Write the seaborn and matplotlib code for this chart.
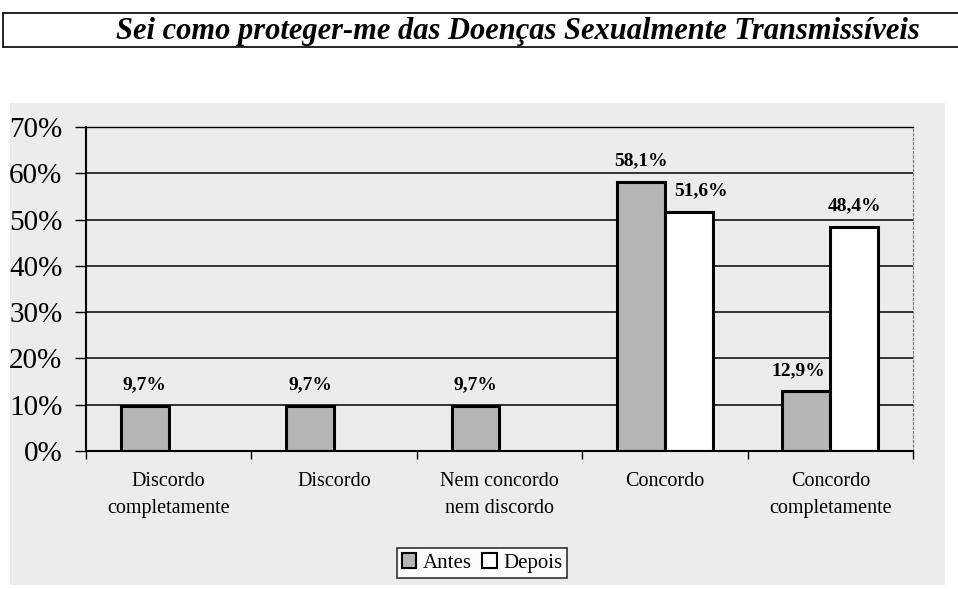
import pandas as pd
import numpy as np
import matplotlib
matplotlib.use("Agg")
import matplotlib.pyplot as plt
from matplotlib.patches import Rectangle, Patch
from matplotlib.lines import Line2D
import seaborn as sns

# dados
categorias = ["Discordo\ncompletamente", "Discordo", "Nem concordo\nnem discordo",
              "Concordo", "Concordo\ncompletamente"]
antes = [9.7, 9.7, 9.7, 58.1, 12.9]
depois = [np.nan, np.nan, np.nan, 51.6, 48.4]
series = ["Antes", "Depois"]
yticks = [0, 10, 20, 30, 40, 50, 60, 70]

df = pd.DataFrame({
    "categoria": categorias * 2,
    "serie": ["Antes"] * len(categorias) + ["Depois"] * len(categorias),
    "valor": antes + depois,
})

sns.set_style("white")
plt.rcParams["font.family"] = ["Liberation Serif", "DejaVu Serif"]
plt.rcParams["text.color"] = "black"
plt.rcParams["xtick.color"] = "black"
plt.rcParams["ytick.color"] = "black"

fig = plt.figure(figsize=(9.58, 5.89), dpi=100)
fig.patch.set_facecolor("white")

# fundo cinzento da zona do grafico
fundo = "#ececec"
fig.patches.append(Rectangle((10 / 958, 1 - 585 / 589), 935 / 958, 482 / 589,
                             transform=fig.transFigure, facecolor=fundo,
                             edgecolor="none", zorder=-5))

# caixa do titulo
fig.lines.append(Line2D([3 / 958, 1], [1 - 13 / 589] * 2, transform=fig.transFigure, color="black", lw=1.2))
fig.lines.append(Line2D([3 / 958, 1], [1 - 47 / 589] * 2, transform=fig.transFigure, color="black", lw=1.2))
fig.lines.append(Line2D([3 / 958, 3 / 958], [1 - 13 / 589, 1 - 47 / 589], transform=fig.transFigure, color="black", lw=1.2))
fig.text(0.541, 1 - 31 / 589, "Sei como proteger-me das Doenças Sexualmente Transmissíveis",
         ha="center", va="center", fontsize=22, fontweight="bold", fontstyle="italic")

ax = fig.add_axes([86 / 958, 1 - 451 / 589, 827 / 958, 324 / 589])
ax.set_facecolor(fundo)

sns.barplot(data=df, x="categoria", y="valor", hue="serie", hue_order=series,
            palette={"Antes": "#b5b5b5", "Depois": "white"}, width=0.58, gap=0,
            errorbar=None, edgecolor="black", linewidth=2.2, ax=ax, legend=False)

for cont in ax.containers:
    vals = [v for v in cont.datavalues]
    labels = ["" if np.isnan(v) else f"{v:.1f}%".replace(".", ",") for v in vals]
    txts = ax.bar_label(cont, labels=labels, padding=9, fontsize=14, fontweight="bold")
    # afastar um pouco os rotulos que ficam colados a barra vizinha
    for t in txts:
        if t.get_text() == "51,6%":
            t.xyann = (9, t.xyann[1])
        if t.get_text() == "12,9%":
            t.xyann = (-6, t.xyann[1])

ax.set_ylim(0, 70)
ax.set_xlim(-0.5, 4.5)
ax.set_yticks(yticks)
ax.set_yticklabels([f"{t}%" for t in yticks], fontsize=21)
ax.yaxis.grid(True, color="black", lw=1.1)
ax.set_axisbelow(True)
ax.tick_params(axis="y", length=8, width=1, direction="out", left=True, pad=9)
ax.set_xticks(range(len(categorias)))
ax.set_xticklabels(categorias, fontsize=14.5, linespacing=1.55)
ax.set_xticks(np.arange(-0.5, 5, 1), minor=True)
ax.tick_params(axis="x", which="major", length=0, pad=15)
ax.tick_params(axis="x", which="minor", length=6, width=1, direction="out", bottom=True)
ax.set_xlabel("")
ax.set_ylabel("")

for s in ["left", "bottom"]:
    ax.spines[s].set_color("black")
    ax.spines[s].set_linewidth(1.5)
ax.spines["top"].set_color("black")
ax.spines["top"].set_linewidth(1.0)
ax.spines["right"].set_color("#777777")
ax.spines["right"].set_linewidth(0.8)
ax.spines["right"].set_linestyle((0, (2, 2)))

handles = [Patch(facecolor="#b5b5b5", edgecolor="black", lw=1.5, label="Antes"),
           Patch(facecolor="white", edgecolor="black", lw=1.5, label="Depois")]
leg = fig.legend(handles=handles, loc="center", bbox_to_anchor=(482 / 958, 1 - 563 / 589),
                 ncol=2, fontsize=15, frameon=True, fancybox=False,
                 handlelength=0.7, handleheight=0.7, handletextpad=0.3,
                 columnspacing=0.5, borderpad=0.25)
leg.get_frame().set_edgecolor("black")
leg.get_frame().set_linewidth(1.2)

fig.savefig("out.png", dpi=100)
